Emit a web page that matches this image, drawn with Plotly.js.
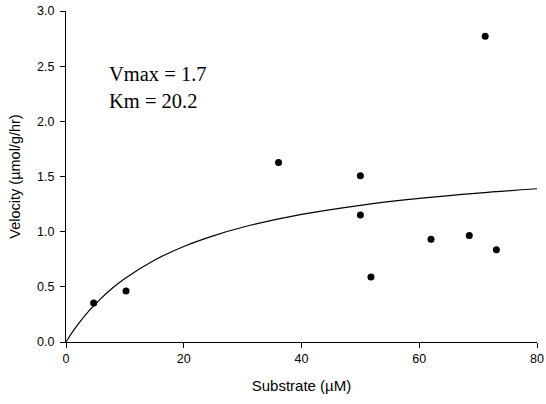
<!DOCTYPE html>
<html>
<head>
<meta charset="utf-8">
<script src="https://cdn.plot.ly/plotly-3.0.1.min.js"></script>
<style>html,body{margin:0;padding:0;background:#fff;}#chart{width:546px;height:404px;}</style>
</head>
<body>
<div id="chart"></div>
<script>
// Observed data points
const substrate = [4.7, 10.2, 36.1, 50.0, 50.0, 51.8, 62.0, 68.5, 71.2, 73.1];
const velocity  = [0.354, 0.463, 1.628, 1.506, 1.152, 0.590, 0.932, 0.965, 2.771, 0.835];

// Fitted curve
const curveX = [0, 1, 2, 4, 6, 8, 10, 15, 20, 25, 30, 40, 50, 60, 70, 80];
const curveY = [0, 0.082, 0.157, 0.288, 0.398, 0.494, 0.576, 0.741, 0.866, 0.962, 1.040, 1.156, 1.239, 1.301, 1.350, 1.389];

const xTicks = [0, 20, 40, 60, 80];
const yTicks = [0, 0.5, 1.0, 1.5, 2.0, 2.5, 3.0];

const fitLabel = "Vmax = 1.7<br>Km = 20.2";

const traces = [
  {x: curveX, y: curveY, mode: 'lines', type: 'scatter',
   line: {color: '#000', width: 1.2, shape: 'spline'}, hoverinfo: 'skip'},
  {x: substrate, y: velocity, mode: 'markers', type: 'scatter',
   marker: {color: '#000', size: 7}}
];

const axisCommon = {
  showgrid: false, zeroline: false, showline: true, linecolor: '#000', linewidth: 1,
  ticks: 'outside', ticklen: 5, tickwidth: 1, tickcolor: '#000',
  tickfont: {family: 'Liberation Sans, Arial, sans-serif', size: 12.5, color: '#000'},
  mirror: false
};

const layout = {
  width: 546, height: 404,
  margin: {l: 66, r: 9, t: 11, b: 62},
  paper_bgcolor: '#fff', plot_bgcolor: '#fff',
  showlegend: false,
  xaxis: Object.assign({}, axisCommon, {
    range: [0, 80], tickvals: xTicks, ticktext: xTicks.map(String),
    title: {text: 'Substrate (µM)', standoff: 15,
            font: {family: 'Liberation Sans, Arial, sans-serif', size: 15, color: '#000'}}
  }),
  yaxis: Object.assign({}, axisCommon, {
    range: [0, 3], tickvals: yTicks, ticktext: yTicks.map(v => v.toFixed(1)),
    ticklabelstandoff: 3,
    title: {text: 'Velocity (µmol/g/hr)', standoff: 13,
            font: {family: 'Liberation Sans, Arial, sans-serif', size: 14.5, color: '#000'}}
  }),
  annotations: [{
    x: 6.9, y: 2.305, xref: 'x', yref: 'y', xanchor: 'left', yanchor: 'middle',
    text: fitLabel, showarrow: false, align: 'left',
    font: {family: 'Liberation Serif, Times New Roman, serif', size: 20.5, color: '#000'}
  }]
};

Plotly.newPlot('chart', traces, layout, {displayModeBar: false, staticPlot: true});
</script>
</body>
</html>
